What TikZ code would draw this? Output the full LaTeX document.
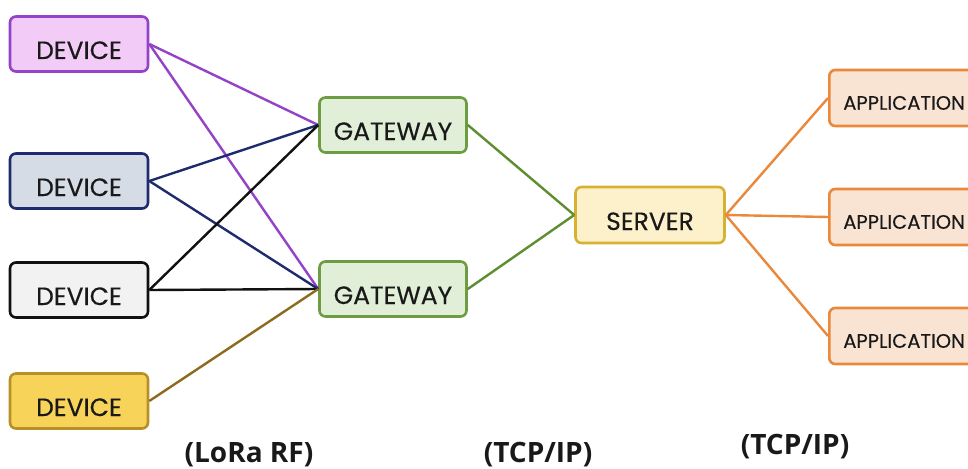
\documentclass[tikz,border=0pt]{standalone}
\usepackage{fontspec}
\setmainfont{Poppins}[FakeBold=0.35]
\newfontfamily\labelfont{Open Sans}
\begin{document}
\begin{tikzpicture}[x=1pt,y=1pt,
  box/.style={draw, line width=2.6pt, rounded corners=6pt, minimum height=55pt,
              inner sep=0pt, text height=30pt, text depth=0pt,
              font=\fontsize{25}{25}\selectfont, text=black!90},
  devbox/.style={box, minimum width=138pt},
  gwbox/.style={box, minimum width=147pt, draw=gwline, fill=gwfill},
  srvbox/.style={box, minimum width=149pt, minimum height=56pt, draw=srvline, fill=srvfill},
  appbox/.style={box, minimum height=56pt, text width=150pt, align=left, inner xsep=14pt,
                 text height=23.5pt, draw=appline, fill=appfill,
                 font=\fontsize{19.5}{19.5}\selectfont},
  link/.style={line width=2.4pt},
  proto/.style={font=\labelfont\bfseries\fontsize{28}{28}\selectfont, text=black!90}]
\definecolor{d1fill}{HTML}{F2CCF7}\definecolor{d1line}{HTML}{9442C8}
\definecolor{d2fill}{HTML}{D6DCE6}\definecolor{d2line}{HTML}{1E2C6E}
\definecolor{d3fill}{HTML}{F2F2F2}\definecolor{d3line}{HTML}{111111}
\definecolor{d4fill}{HTML}{F8D35A}\definecolor{d4line}{HTML}{B89028}
\definecolor{d4link}{HTML}{8C6A1E}
\definecolor{gwfill}{HTML}{E1EFD9}\definecolor{gwline}{HTML}{6E9C42}
\definecolor{gwlink}{HTML}{5F8E30}
\definecolor{srvfill}{HTML}{FDF1CB}\definecolor{srvline}{HTML}{D6B232}
\definecolor{appfill}{HTML}{F9E3D2}\definecolor{appline}{HTML}{EA883C}

\clip (0,0) rectangle (968,-468);
\fill[white] (0,0) rectangle (968,-468);

% end devices
\node[devbox, draw=d1line, fill=d1fill] (dev1) at (79,-44)  {DEVICE};
\node[devbox, draw=d2line, fill=d2fill] (dev2) at (79,-181) {DEVICE};
\node[devbox, draw=d3line, fill=d3fill] (dev3) at (79,-290) {DEVICE};
\node[devbox, draw=d4line, fill=d4fill] (dev4) at (79,-401) {DEVICE};

% gateways and network server
\node[gwbox] (gw1) at (393,-125) {GATEWAY};
\node[gwbox] (gw2) at (393,-289) {GATEWAY};
\node[srvbox] (srv) at (650,-215) {SERVER};

% applications
\node[appbox, anchor=west] (app1) at (828,-98)  {APPLICATION};
\node[appbox, anchor=west] (app2) at (828,-217) {APPLICATION};
\node[appbox, anchor=west] (app3) at (828,-336) {APPLICATION};

% radio links
\draw[link, d1line] (dev1.east) -- (gw1.west);
\draw[link, d1line] (dev1.east) -- (gw2.west);
\draw[link, d2line] (dev2.east) -- (gw1.west);
\draw[link, d2line] (dev2.east) -- (gw2.west);
\draw[link, d3line] (dev3.east) -- (gw1.west);
\draw[link, d3line] (dev3.east) -- (gw2.west);
\draw[link, d4link] (dev4.east) -- (gw2.west);

% backhaul
\draw[link, gwlink] (gw1.east) -- (srv.west);
\draw[link, gwlink] (gw2.east) -- (srv.west);

% application links
\draw[link, appline] (srv.east) -- (app1.west);
\draw[link, appline] (srv.east) -- (app2.west);
\draw[link, appline] (srv.east) -- (app3.west);

% protocol labels
\node[proto] (p1) at (249,-455) {(LoRa RF)};
\node[proto] (p2) at (538,-455) {(TCP/IP)};
\node[proto] (p3) at (795,-447) {(TCP/IP)};
\end{tikzpicture}
\end{document}
